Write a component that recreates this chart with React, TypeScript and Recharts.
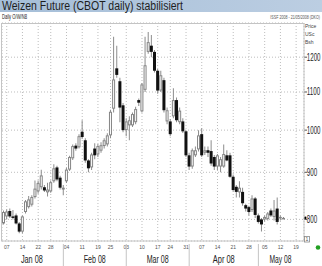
import { Bar, CartesianGrid, ComposedChart, ReferenceLine, XAxis, YAxis } from "recharts"

// trading days shown on the axis (Jan 4 - May 21 2008)
const janDays = [4, 7, 8, 9, 10, 11, 14, 15, 16, 17, 18, 22, 23, 24, 25, 28, 29, 30, 31]
const febDays = [1, 4, 5, 6, 7, 8, 11, 12, 13, 14, 15, 19, 20, 21, 22, 25, 26, 27, 28, 29]
const marDays = [3, 4, 5, 6, 7, 10, 11, 12, 13, 14, 17, 18, 19, 20, 24, 25, 26, 27, 28, 31]
const aprDays = [1, 2, 3, 4, 7, 8, 9, 10, 11, 14, 15, 16, 17, 18, 21, 22, 23, 24, 25, 28, 29, 30]
const mayDays = [1, 2, 5, 6, 7, 8, 9, 12, 13, 14, 15, 16, 19, 20, 21]

const pad = (n: number) => (n < 10 ? "0" + n : String(n))
const dates: string[] = [
  ...janDays.map((d) => "2008-01-" + pad(d)),
  ...febDays.map((d) => "2008-02-" + pad(d)),
  ...marDays.map((d) => "2008-03-" + pad(d)),
  ...aprDays.map((d) => "2008-04-" + pad(d)),
  ...mayDays.map((d) => "2008-05-" + pad(d)),
]

// USc/bushel
const openPx = [
  792, 806, 817, 806, 808, 792, 776, 815, 825, 830, 846, 858, 867, 867, 856, 858, 880, 911, 888,
  862, 880, 906, 932, 962, 958, 996, 975, 927, 911, 955, 941, 950, 961, 965, 987, 1055, 1167, 1130, 1064,
  1000, 1012, 1012, 1020, 1078, 1048, 1106, 1216, 1235, 1216, 1160, 1104, 1133, 1022, 1022, 1035, 1078, 1020, 1022, 997,
  939, 913, 939, 953, 990, 945, 951, 949, 935, 913, 913, 913, 939, 939, 890, 868, 856, 857, 829, 825, 819, 843,
  808, 800, 800, 801, 818, 805, 822, 802, 803,
]
const highPx = [
  818, 820, 822, 819, 812, 795, 808, 840, 848, 850, 882, 882, 906, 872, 877, 882, 918, 915, 892,
  872, 910, 938, 965, 968, 990, 1025, 980, 930, 945, 968, 966, 970, 980, 992, 1052, 1263, 1235, 1140, 1070,
  1030, 1035, 1045, 1060, 1082, 1125, 1263, 1278, 1268, 1222, 1165, 1160, 1140, 1058, 1028, 1110, 1085, 1058, 1030, 1000,
  945, 955, 960, 1000, 1005, 960, 960, 975, 940, 942, 935, 965, 951, 945, 895, 872, 880, 866, 832, 828, 850, 846,
  812, 803, 808, 815, 822, 840, 845, 808, 805,
]
const lowPx = [
  790, 800, 803, 800, 790, 773, 773, 812, 822, 826, 843, 853, 862, 857, 847, 855, 877, 880, 862,
  850, 876, 903, 928, 950, 955, 978, 922, 900, 905, 930, 935, 945, 955, 960, 980, 1045, 1140, 1020, 995,
  985, 975, 1008, 1015, 1062, 1045, 1100, 1210, 1200, 1155, 1095, 1100, 1045, 1015, 985, 1030, 1020, 1015, 993, 935,
  905, 908, 935, 948, 935, 940, 935, 915, 905, 905, 900, 910, 925, 888, 858, 845, 845, 828, 816, 808, 815, 803,
  792, 776, 796, 798, 805, 798, 790, 798, 801,
]
const closePx = [
  815, 816, 806, 803, 792, 776, 806, 837, 841, 846, 864, 876, 893, 860, 862, 878, 909, 884, 866,
  866, 906, 935, 961, 955, 985, 983, 927, 909, 941, 939, 961, 963, 975, 987, 1047, 1135, 1148, 1058, 1000,
  1022, 1025, 1041, 1054, 1071, 1121, 1176, 1246, 1216, 1160, 1104, 1147, 1051, 1051, 990, 1078, 1025, 1050, 997, 939,
  913, 951, 951, 987, 939, 951, 945, 920, 913, 939, 930, 942, 927, 890, 861, 857, 866, 833, 822, 815, 843, 809,
  795, 790, 805, 812, 808, 818, 795, 805, 803,
]

const dayTicks = [
  "2008-01-07", "2008-01-14", "2008-01-22", "2008-01-28", "2008-02-04", "2008-02-11", "2008-02-19",
  "2008-02-25", "2008-03-03", "2008-03-10", "2008-03-17", "2008-03-24", "2008-03-31", "2008-04-07",
  "2008-04-14", "2008-04-21", "2008-04-28", "2008-05-05", "2008-05-12", "2008-05-19",
]
const monthLabelTicks = ["2008-01-17", "2008-02-15", "2008-03-17", "2008-04-16", "2008-05-12"]
const monthNames = ["Jan 08", "Feb 08", "Mar 08", "Apr 08", "May 08"]
const monthStarts = ["2008-02-01", "2008-03-03", "2008-04-01", "2008-05-01"]
const priceTicks = [800, 900, 1000, 1100, 1200]
const lastPrice = 803

const data = dates.map((date, i) => {
  const o = openPx[i]
  const c = closePx[i]
  if (o == null) return { date, range: null, body: null }
  return {
    date,
    open: o,
    close: c,
    range: [lowPx[i], highPx[i]],
    body: [Math.min(o, c), Math.max(o, c)],
  }
})

const FONT = "'Liberation Sans', Arial, sans-serif"
const DAY_LABEL_Y = 249
const MONTH_LABEL_Y = 262.5

function Body(props: any) {
  const { x, y, width, height, payload } = props
  if (!payload || payload.open == null) return null
  const h = Math.max(height, 1)
  if (payload.close >= payload.open) {
    return <rect x={x + 0.5} y={y + 0.5} width={width - 1} height={Math.max(h - 1, 0.5)} fill="#fff" stroke="#858585" strokeWidth={1} />
  }
  return <rect x={x} y={y} width={width} height={h} fill="#111" />
}

function DayTick({ x, payload }: any) {
  return (
    <text x={x} y={DAY_LABEL_Y} textAnchor="middle" fontSize={5} fill="#555" fontFamily={FONT}>
      {String(payload.value).slice(8)}
    </text>
  )
}

function MonthTick({ x, payload }: any) {
  const v = payload.value
  if (monthStarts.includes(v)) {
    return <line x1={x} x2={x} y1={244} y2={266} stroke="#c4c4c4" strokeWidth={1} />
  }
  const idx = monthLabelTicks.indexOf(v)
  return (
    <text x={x} y={MONTH_LABEL_Y} textAnchor="middle" fontSize={11} fill="#222" fontFamily={FONT} textLength={22} lengthAdjust="spacingAndGlyphs">
      {monthNames[idx]}
    </text>
  )
}

// condensed price labels, squeezed horizontally like the original
function PriceTick({ x, y, payload }: any) {
  return (
    <text transform={`translate(${x - 0.2},${y + 3.5}) scale(0.62,1)`} fontSize={10} fill="#222" fontFamily={FONT}>
      {String(payload.value)}
    </text>
  )
}

export default function App() {
  return (
    <div style={{ position: "relative", width: 322, height: 266, background: "#fff", overflow: "hidden" }}>
      <style>{"body{margin:0}"}</style>
      <svg width={322} height={266} style={{ position: "absolute", left: 0, top: 0 }}>
        <defs>
          <linearGradient id="hdr" x1="0" x2="1" y1="0" y2="0">
            <stop offset="0" stopColor="#a5bed8" />
            <stop offset="1" stopColor="#bccee2" />
          </linearGradient>
        </defs>
        <rect x={0} y={0} width={322} height={12} fill="url(#hdr)" />
      </svg>
      <div style={{ position: "absolute", left: 0, top: 0 }}>
        <ComposedChart width={322} height={266} data={data} margin={{ top: 23, right: 0, bottom: 0, left: 2 }}>
          <CartesianGrid xAxisId="day" yAxisId="p" stroke="#bdbdbd" strokeDasharray="1 2" />
          <XAxis xAxisId="day" dataKey="date" ticks={dayTicks} interval={0} tickLine={false} axisLine={false} tickSize={0} tickMargin={0} height={9} tick={<DayTick />} />
          <XAxis xAxisId="month" dataKey="date" ticks={[...monthLabelTicks, ...monthStarts]} interval={0} tickLine={false} axisLine={false} tickSize={0} tickMargin={0} height={16} tick={<MonthTick />} />
          <XAxis xAxisId="body" dataKey="date" hide />
          <YAxis
            yAxisId="p"
            orientation="right"
            scale="log"
            domain={[758, 1307]}
            allowDataOverflow
            ticks={priceTicks}
            interval={0}
            width={18}
            tickSize={3}
            tickMargin={0}
            axisLine={false}
            tickLine={{ stroke: "#555" }}
            tick={<PriceTick />}
          />
          <Bar xAxisId="day" yAxisId="p" dataKey="range" barSize={1} fill="#8c8c8c" isAnimationActive={false} />
          <Bar xAxisId="body" yAxisId="p" dataKey="body" barSize={3} shape={<Body />} isAnimationActive={false} />
          <ReferenceLine
            xAxisId="day"
            yAxisId="p"
            y={lastPrice}
            stroke="none"
            label={(p: any) => <circle cx={p.viewBox.x + p.viewBox.width + 1.2} cy={p.viewBox.y} r={1.3} fill="#000" />}
          />
        </ComposedChart>
      </div>
      <svg width={322} height={266} style={{ position: "absolute", left: 0, top: 0, pointerEvents: "none" }} fontFamily={FONT}>
        <rect x={1.5} y={23.5} width={302.5} height={217.5} fill="none" stroke="#c4c4c4" />
        <text x={2} y={10.2} fontSize={12} fill="#1e1e1e" textLength={181} lengthAdjust="spacingAndGlyphs">
          Weizen Future (CBOT daily) stabilisiert
        </text>
        <text x={2} y={18.5} fontSize={7} fill="#222" textLength={25} lengthAdjust="spacingAndGlyphs">Daily O/W/N8</text>
        <text transform="translate(320,18.5) scale(0.66,1)" textAnchor="end" fontSize={5.5} fill="#555">
          ISSF 2008 - 21/05/2008 (DKO)
        </text>
        <text x={305} y={27.5} fontSize={5} fill="#444">Price</text>
        <text x={305} y={35.5} fontSize={5} fill="#444">USc</text>
        <text x={305} y={43.5} fontSize={5} fill="#444">Bsh</text>
        <rect x={304.5} y={236.5} width={5} height={5.5} fill="#fff" stroke="#888" strokeWidth={0.8} />
        <text x={307} y={241} fontSize={5} fill="#555" textAnchor="middle">1</text>
        <circle cx={318} cy={247.5} r={2.3} fill="#22a022" />
      </svg>
    </div>
  )
}
